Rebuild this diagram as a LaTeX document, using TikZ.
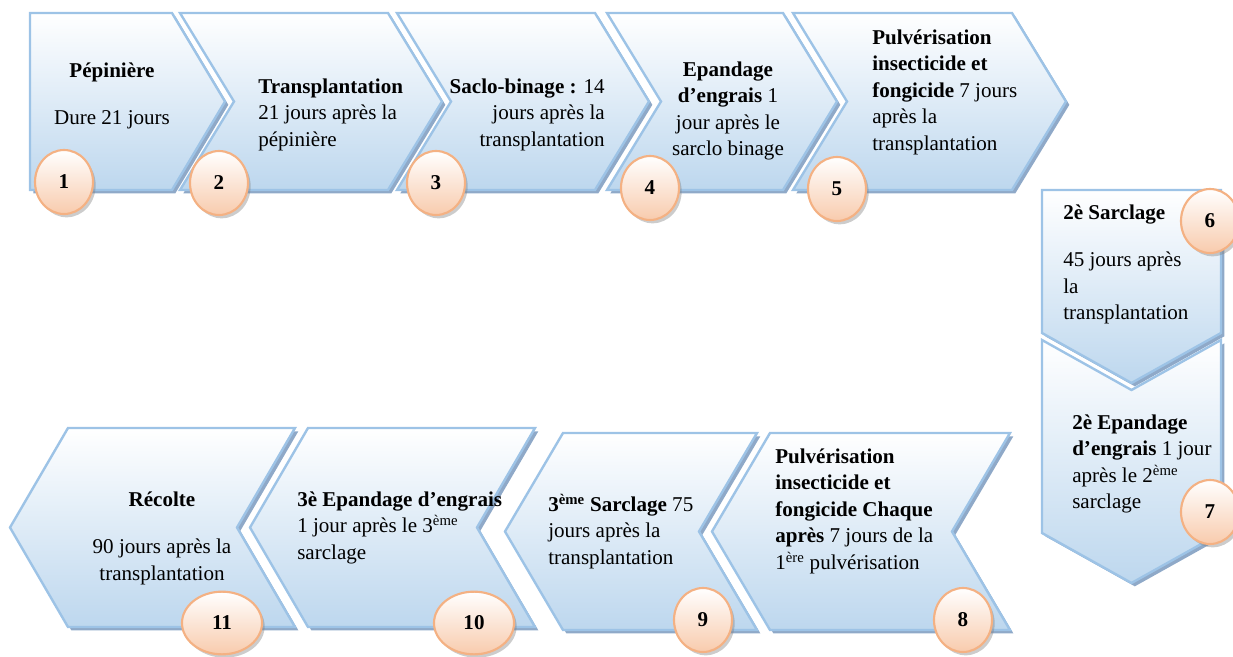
\documentclass[tikz,border=0pt]{standalone}
\usepackage{fontspec}
\setmainfont{Liberation Serif}
\usetikzlibrary{shapes.geometric, shadows}
\definecolor{bleubord}{HTML}{9DC3E6}
\definecolor{bleufond}{HTML}{BDD7EE}
\definecolor{ombre}{HTML}{8FA9C8}
\definecolor{orangebord}{HTML}{F4B183}
\definecolor{peche}{HTML}{F8CBAD}

\tikzset{
  chevron/.style={draw=bleubord, line width=1.8pt, line join=miter, top color=white, bottom color=bleufond,
    drop shadow={shadow xshift=2.5pt, shadow yshift=-2.5pt, fill=ombre, opacity=1}},
  texte/.style={font=\fontsize{15.8}{19.9}\selectfont, inner sep=0pt, text width=6cm, align=flush left},
  pastille/.style={ellipse, draw=orangebord, line width=1.6pt, top color=white, bottom color=peche,
    minimum width=43.5pt, minimum height=48pt, inner sep=0pt, font=\fontsize{15.8}{19.9}\selectfont\bfseries,
    drop shadow={shadow xshift=2pt, shadow yshift=-2.5pt, opacity=0.4}},
  grande/.style={pastille, minimum width=60pt, minimum height=47pt}
}

\begin{document}
\begin{tikzpicture}[x=0.75pt, y=-0.75pt]
  \useasboundingbox (0,0) rectangle (1233,657);
  % rangee du haut
  \path[chevron] (30,13) -- (172,13) -- (225,101.5) -- (172,190) -- (30,190) -- cycle;
  \foreach \xa/\xb in {180/388, 397/595, 607/783, 793/1012} {
    \path[chevron] (\xa,13) -- (\xb,13) -- (\xb+54,101.5) -- (\xb,190) -- (\xa,190) -- (\xa+54,101.5) -- cycle;
  }
  % colonne de droite
  \path[chevron] (1042,190) -- (1221,190) -- (1221,333) -- (1131.5,383) -- (1042,333) -- cycle;
  \path[chevron] (1042,340) -- (1131.5,390) -- (1221,340) -- (1221,533) -- (1131.5,583) -- (1042,533) -- cycle;
  % rangee du bas
  \foreach \xa/\xb/\ya/\yb/\ym in {770/1010/433/630/531.5, 563/757/433/630/531.5, 308/535/428/627/527.5, 68/295/428/627/527.5} {
    \path[chevron] (\xa,\ya) -- (\xb,\ya) -- (\xb-58,\ym) -- (\xb,\yb) -- (\xa,\yb) -- (\xa-58,\ym) -- cycle;
  }

  \node[texte, align=flush center, anchor=base] (pepiniere) at (112,77) {\textbf{Pépinière}\\[16pt]Dure 21 jours};
  \node[texte, anchor=base west] (transplantation) at (258,93) {\textbf{Transplantation}\\21 jours après la\\pépinière};
  \node[texte, align=flush right, anchor=base east] (saclo) at (605,93) {\textbf{Saclo-binage :} 14\\jours après la\\transplantation};
  \node[texte, align=flush center, anchor=base] (epandage) at (728,76) {\textbf{Epandage}\\\textbf{d’engrais} 1\\jour après le\\sarclo binage};
  \node[texte, anchor=base west] (pulverisation) at (872,44) {\textbf{Pulvérisation}\\\textbf{insecticide et}\\\textbf{fongicide} 7 jours\\après la\\transplantation};
  \node[texte, anchor=base west] (sarclagedeux) at (1063,219) {\textbf{2è Sarclage}\\[16pt]45 jours après\\la\\transplantation};
  \node[texte, anchor=base west] (epandagedeux) at (1072,429) {\textbf{2è Epandage}\\\textbf{d’engrais} 1 jour\\après le 2\textsuperscript{ème}\\sarclage};
  \node[texte, anchor=base west] (pulverisationdeux) at (775,463) {\textbf{Pulvérisation}\\\textbf{insecticide et}\\\textbf{fongicide Chaque}\\\textbf{après} 7 jours de la\\1\textsuperscript{ère} pulvérisation};
  \node[texte, anchor=base west] (sarclagetrois) at (548,511) {\textbf{3\textsuperscript{ème} Sarclage} 75\\jours après la\\transplantation};
  \node[texte, anchor=base west] (epandagetrois) at (297,506) {\textbf{3è Epandage d’engrais}\\1 jour après le 3\textsuperscript{ème}\\sarclage};
  \node[texte, align=flush center, anchor=base] (recolte) at (162,506) {\textbf{Récolte}\\[16pt]90 jours après la\\transplantation};

  % pastilles numerotees
  \foreach \n/\x/\y in {1/64/182, 2/219/183, 3/436/183, 4/650/188, 5/837/189, 6/1210/221, 7/1210/512, 8/963/620, 9/703/620} {
    \node[pastille] (p\n) at (\x,\y) {\n};
  }
  \node[grande] (p10) at (474,623) {10};
  \node[grande] (p11) at (222,623) {11};
\end{tikzpicture}
\end{document}
